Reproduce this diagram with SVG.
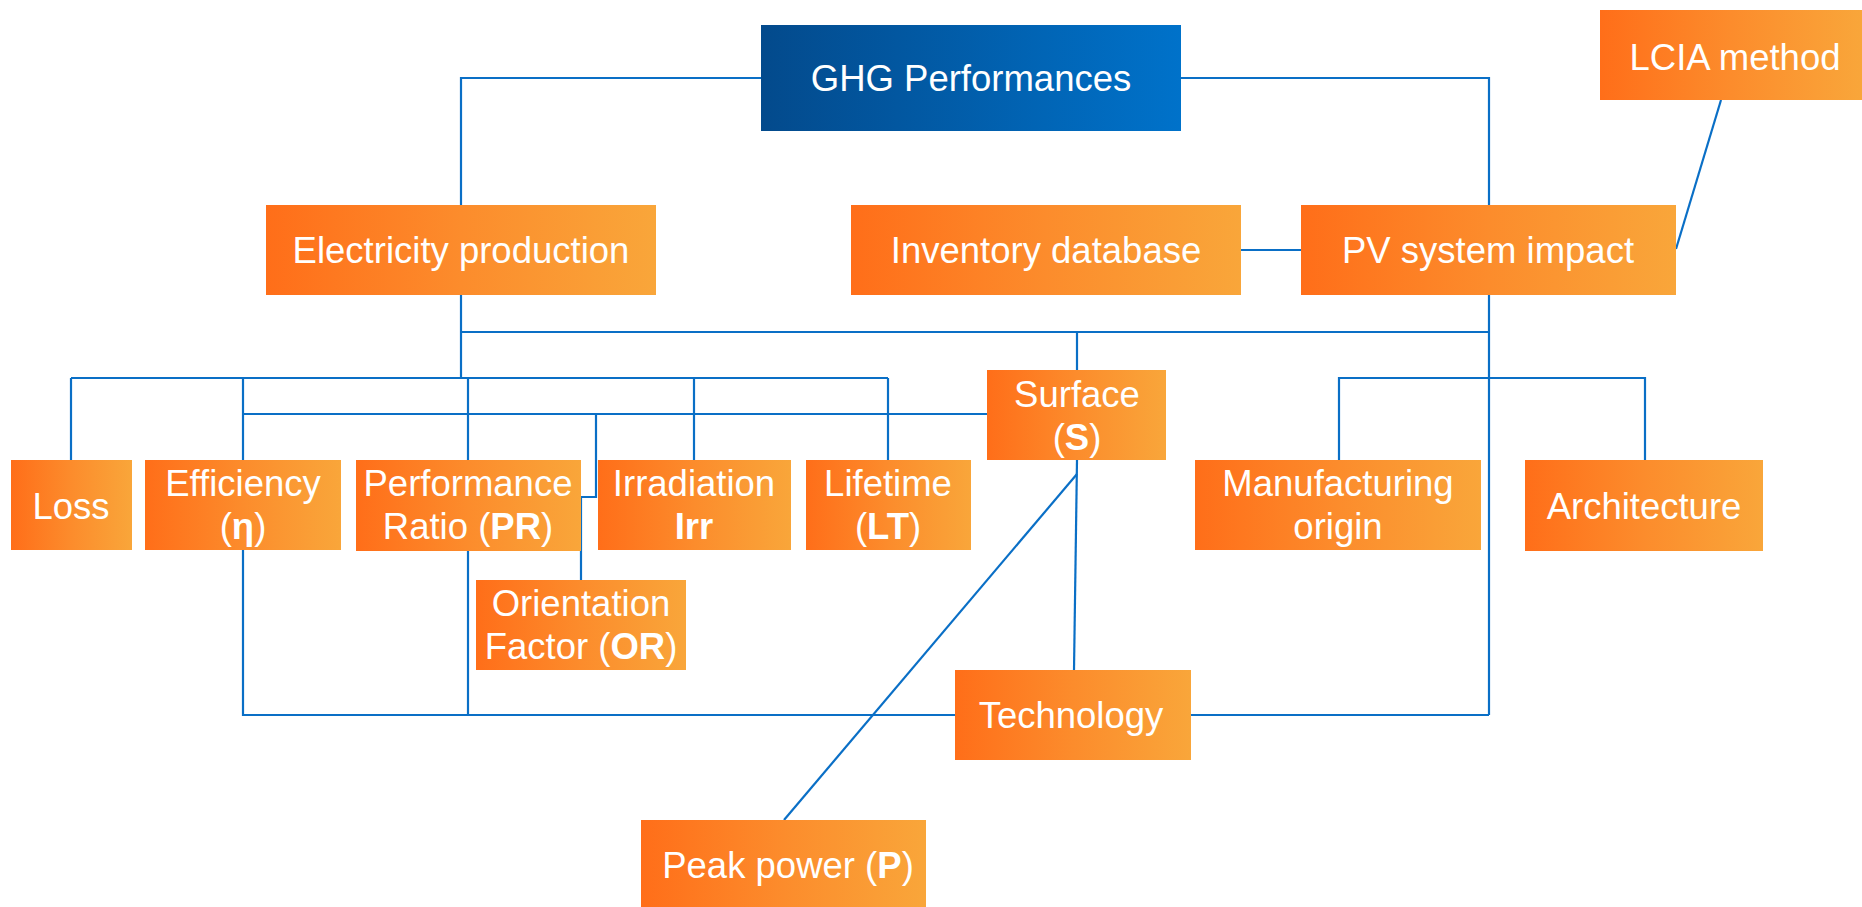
<svg xmlns="http://www.w3.org/2000/svg" width="1862" height="907" viewBox="0 0 1862 907">
<defs>
<linearGradient id="og" x1="0" y1="0" x2="1" y2="0">
<stop offset="0" stop-color="#FF6E19"/>
<stop offset="0.5" stop-color="#FC8C2C"/>
<stop offset="1" stop-color="#F9A63A"/>
</linearGradient>
<linearGradient id="bg" x1="0" y1="0" x2="1" y2="0">
<stop offset="0" stop-color="#034A8C"/>
<stop offset="1" stop-color="#0072CA"/>
</linearGradient>
</defs>
<style>
.o{fill:url(#og);}
.b{fill:url(#bg);}
text{font-family:"Liberation Sans",Arial,sans-serif;font-size:36.5px;fill:#FFFFFF;text-anchor:middle;}
.k{font-weight:bold;}
.c{fill:none;stroke:#0A6FC6;stroke-width:2.2;}
</style>
<rect width="1862" height="907" fill="#FFFFFF"/>
<g id="connectors" class="c">
<polyline points="761,78 461,78 461,205"/>
<polyline points="1181,78 1489,78 1489,205"/>
<line x1="1241" y1="250" x2="1301" y2="250"/>
<line x1="1721" y1="100" x2="1676" y2="249"/>
<line x1="461" y1="295" x2="461" y2="378"/>
<line x1="461" y1="332" x2="1489" y2="332"/>
<line x1="1077" y1="332" x2="1077" y2="370"/>
<line x1="71" y1="378" x2="888" y2="378"/>
<line x1="71" y1="378" x2="71" y2="460"/>
<line x1="243" y1="378" x2="243" y2="460"/>
<line x1="468" y1="378" x2="468" y2="460"/>
<line x1="694" y1="378" x2="694" y2="460"/>
<line x1="888" y1="378" x2="888" y2="460"/>
<line x1="243" y1="414" x2="987" y2="414"/>
<polyline points="596,414 596,497 581,497 581,580"/>
<line x1="1489" y1="295" x2="1489" y2="715"/>
<polyline points="1339,460 1339,378 1645,378 1645,460"/>
<polyline points="243,550 243,715 955,715"/>
<line x1="468" y1="551" x2="468" y2="715"/>
<line x1="1191" y1="715" x2="1489" y2="715"/>
<line x1="1077" y1="460" x2="1074" y2="670"/>
<line x1="1077" y1="474" x2="784" y2="820"/>
</g>
<g id="ghg"><rect class="b" x="761" y="25" width="420" height="106"/><text x="971" y="91">GHG Performances</text></g>
<g id="electricity"><rect class="o" x="266" y="205" width="390" height="90"/><text x="461" y="263">Electricity production</text></g>
<g id="inventory"><rect class="o" x="851" y="205" width="390" height="90"/><text x="1046" y="263">Inventory database</text></g>
<g id="pv"><rect class="o" x="1301" y="205" width="375" height="90"/><text x="1488" y="263">PV system impact</text></g>
<g id="lcia"><rect class="o" x="1600" y="10" width="262" height="90"/><text x="1735" y="70">LCIA method</text></g>
<g id="loss"><rect class="o" x="11" y="460" width="121" height="90"/><text x="71" y="519">Loss</text></g>
<g id="efficiency"><rect class="o" x="145" y="460" width="196" height="90"/><text x="243" y="496">Efficiency</text><text x="243" y="539">(<tspan class="k">η</tspan>)</text></g>
<g id="pr"><rect class="o" x="356" y="460" width="225" height="91"/><text x="468" y="496">Performance</text><text x="468" y="539">Ratio (<tspan class="k">PR</tspan>)</text></g>
<g id="irradiation"><rect class="o" x="598" y="460" width="193" height="90"/><text x="694" y="496">Irradiation</text><text x="694" y="539" class="k">Irr</text></g>
<g id="lifetime"><rect class="o" x="806" y="460" width="165" height="90"/><text x="888" y="496">Lifetime</text><text x="888" y="539">(<tspan class="k">LT</tspan>)</text></g>
<g id="surface"><rect class="o" x="987" y="370" width="179" height="90"/><text x="1077" y="407">Surface</text><text x="1077" y="450">(<tspan class="k">S</tspan>)</text></g>
<g id="manufacturing"><rect class="o" x="1195" y="460" width="286" height="90"/><text x="1338" y="496">Manufacturing</text><text x="1338" y="539">origin</text></g>
<g id="architecture"><rect class="o" x="1525" y="460" width="238" height="91"/><text x="1644" y="519">Architecture</text></g>
<g id="orientation"><rect class="o" x="476" y="580" width="210" height="90"/><text x="581" y="616">Orientation</text><text x="581" y="659">Factor (<tspan class="k">OR</tspan>)</text></g>
<g id="technology"><rect class="o" x="955" y="670" width="236" height="90"/><text x="1071" y="728">Technology</text></g>
<g id="peak"><rect class="o" x="641" y="820" width="285" height="87"/><text x="788" y="878">Peak power (<tspan class="k">P</tspan>)</text></g>
</svg>
